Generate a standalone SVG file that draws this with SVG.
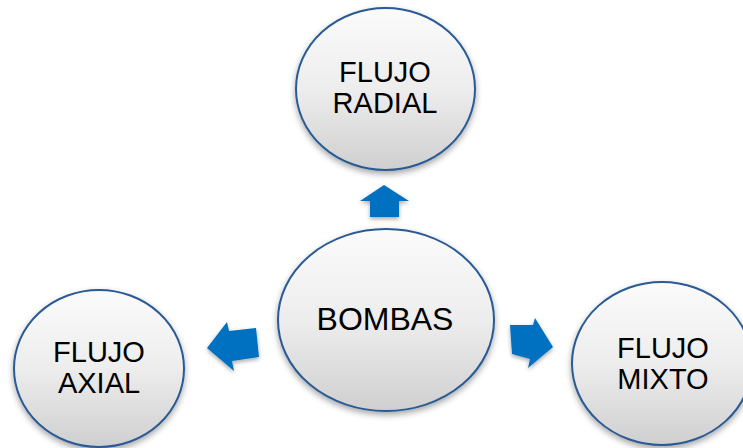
<svg xmlns="http://www.w3.org/2000/svg" width="743" height="448" viewBox="0 0 743 448">
  <defs>
    <linearGradient id="g" x1="0" y1="0" x2="0" y2="1">
      <stop offset="0" stop-color="#fbfbfb"/>
      <stop offset="0.5" stop-color="#ededed"/>
      <stop offset="1" stop-color="#cfcfcf"/>
    </linearGradient>
    <filter id="sh" x="-20%" y="-20%" width="140%" height="150%">
      <feDropShadow dx="0" dy="3" stdDeviation="3" flood-color="#000" flood-opacity="0.35"/>
    </filter>
    <filter id="ash" x="-30%" y="-30%" width="160%" height="170%">
      <feDropShadow dx="0" dy="2" stdDeviation="2" flood-color="#000" flood-opacity="0.35"/>
    </filter>
  </defs>
  <style>
    .node ellipse { fill: url(#g); stroke: #2A5A93; stroke-width: 2; filter: url(#sh); }
    .node text { font-family: "Liberation Sans", Arial, sans-serif; font-size: 29px; fill: #000; text-anchor: middle; }
    .arr { fill: #0070C0; filter: url(#ash); }
  </style>
  <rect width="743" height="448" fill="#fff"/>
  <g id="connectors">
    <polygon class="arr" points="384,185 409,201 399,201 399,217 370,217 370,201 360,201"/>
    <polygon class="arr" points="207,348 227,322 229,331 256,328 259,357 232,361 234,371"/>
    <polygon class="arr" points="553,347 535,318 533,325 510,325 512,354 530,359 528,368"/>
  </g>
  <g id="radial" class="node">
    <ellipse cx="385.5" cy="89" rx="89.5" ry="81"/>
    <text x="385" y="82">FLUJO</text>
    <text x="385" y="113">RADIAL</text>
  </g>
  <g id="bombas" class="node">
    <ellipse cx="386" cy="320" rx="108" ry="91"/>
    <text x="385" y="330" style="font-size:32px">BOMBAS</text>
  </g>
  <g id="axial" class="node">
    <ellipse cx="99" cy="368.5" rx="85" ry="78.5"/>
    <text x="99" y="362">FLUJO</text>
    <text x="99" y="393">AXIAL</text>
  </g>
  <g id="mixto" class="node">
    <ellipse cx="662" cy="363.5" rx="90" ry="81.5"/>
    <text x="663" y="358">FLUJO</text>
    <text x="663" y="389">MIXTO</text>
  </g>
</svg>
